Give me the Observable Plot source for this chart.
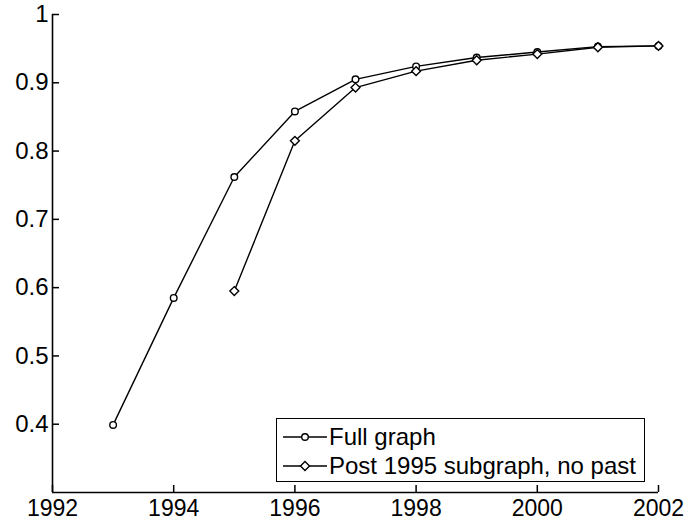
<!DOCTYPE html>
<html>
<head>
<meta charset="utf-8">
<script src="https://cdn.jsdelivr.net/npm/d3@7"></script>
<script src="https://cdn.jsdelivr.net/npm/@observablehq/plot@0.6"></script>
<style>
  html, body { margin: 0; padding: 0; background: #fff; }
  #wrap { position: relative; width: 689px; height: 523px; font-family: "Liberation Sans", Arial, sans-serif; }
  #legend { position: absolute; left: 276px; top: 418px; width: 367px; height: 62px; border: 1.5px solid #000; background: #fff; font-size: 24px; color: #000; }
  .row { position: absolute; left: 6px; height: 28px; display: flex; align-items: center; white-space: nowrap; }
  .row svg { margin-right: 2px; }
</style>
</head>
<body>
<div id="wrap"></div>
<script>
const years = [1993, 1994, 1995, 1996, 1997, 1998, 1999, 2000, 2001, 2002];
const fullGraph = [0.399, 0.585, 0.762, 0.858, 0.905, 0.924, 0.937, 0.945, 0.953, 0.954];
const postYears = [1995, 1996, 1997, 1998, 1999, 2000, 2001, 2002];
const postSubgraph = [0.595, 0.815, 0.893, 0.917, 0.933, 0.942, 0.952, 0.954];
const xDomain = [1992, 2002];
const yDomain = [0.3, 1];
const xTicks = [1992, 1994, 1996, 1998, 2000, 2002];
const yTicks = [0.4, 0.5, 0.6, 0.7, 0.8, 0.9, 1];
const seriesNames = ["Full graph", "Post 1995 subgraph, no past"];

const full = years.map((y, i) => ({year: y, value: fullGraph[i]}));
const post = postYears.map((y, i) => ({year: y, value: postSubgraph[i]}));

const chart = Plot.plot({
  width: 689,
  height: 523,
  marginLeft: 52,
  marginRight: 31,
  marginTop: 14,
  marginBottom: 31,
  style: {fontFamily: "'Liberation Sans', Arial, sans-serif", fontSize: "23px", color: "#000", background: "#fff", overflow: "visible"},
  x: {domain: xDomain},
  y: {domain: yDomain},
  marks: [
    Plot.axisX({ticks: xTicks, tickFormat: d => String(d), tickSize: 0, tickPadding: 7, label: null, fill: "#000"}),
    Plot.axisY({ticks: yTicks, tickFormat: d => String(d), tickSize: 0, tickPadding: 4, label: null, fill: "#000", fontSize: 24}),
    // axis lines
    Plot.ruleX([xDomain[0]], {stroke: "#000", strokeWidth: 1.6}),
    Plot.ruleY([yDomain[0]], {stroke: "#000", strokeWidth: 1.6}),
    // inward ticks
    Plot.ruleY(yTicks, {y: d => d, x1: xDomain[0], x2: xDomain[0], insetRight: -7, stroke: "#000", strokeWidth: 1.5}),
    Plot.ruleX(xTicks, {x: d => d, y1: yDomain[0], y2: yDomain[0], insetTop: -7, stroke: "#000", strokeWidth: 1.5}),
    Plot.line(full, {x: "year", y: "value", stroke: "#000", strokeWidth: 1.4}),
    Plot.line(post, {x: "year", y: "value", stroke: "#000", strokeWidth: 1.4}),
    Plot.dot(full, {x: "year", y: "value", r: 3.3, symbol: "circle", stroke: "#000", fill: "#fff", strokeWidth: 1.4}),
    Plot.dot(post, {x: "year", y: "value", r: 4, symbol: "diamond2", stroke: "#000", fill: "#fff", strokeWidth: 1.4})
  ]
});

const wrap = document.getElementById("wrap");
wrap.appendChild(chart);

const legend = document.createElement("div");
legend.id = "legend";
const sym = [
  '<circle cx="22" cy="8" r="3.3" fill="#fff" stroke="#000" stroke-width="1.4"/>',
  '<path d="M22,3.5L26.5,8L22,12.5L17.5,8Z" fill="#fff" stroke="#000" stroke-width="1.4"/>'
];
seriesNames.forEach((name, i) => {
  const row = document.createElement("div");
  row.className = "row";
  row.style.top = (4 + i * 29) + "px";
  row.innerHTML = '<svg width="44" height="16"><line x1="0" y1="8" x2="44" y2="8" stroke="#000" stroke-width="1.4"/>' + sym[i] + '</svg><span>' + name + '</span>';
  legend.appendChild(row);
});
wrap.appendChild(legend);
</script>
</body>
</html>
